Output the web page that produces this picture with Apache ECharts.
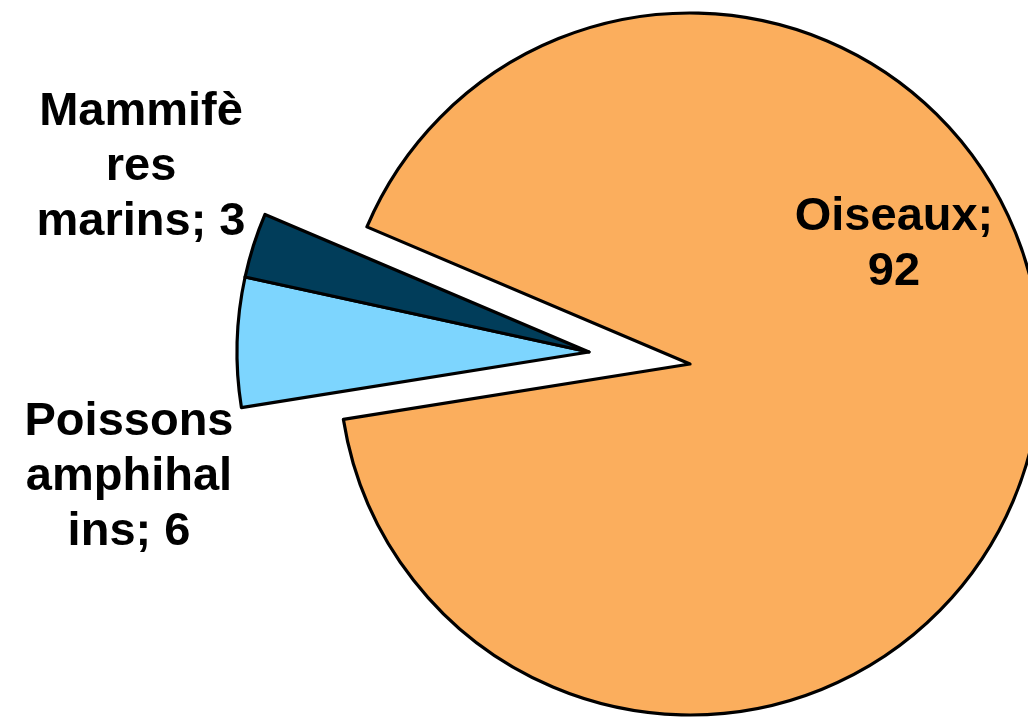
<!DOCTYPE html>
<html>
<head>
<meta charset="utf-8">
<script src="https://cdn.jsdelivr.net/npm/echarts@6/dist/echarts.min.js"></script>
<style>
html,body{margin:0;padding:0;background:#fff;}
#chart{width:1028px;height:719px;}
</style>
</head>
<body>
<div id="chart"></div>
<script>
// ---- data ----
const categories = ['Oiseaux', 'Poissons amphihalins', 'Mammifères marins'];
const values = [92, 6, 3];
// label text as wrapped in the reference
const labelTexts = ['Oiseaux;\n92', 'Poissons\namphihal\nins; 6', 'Mammifè\nres\nmarins; 3'];
const colors = ['#FBAE5D', '#7DD5FE', '#013D5A'];

const total = values.reduce((a, b) => a + b, 0);
const startAngle = 157;
const bigSpan = values[0] / total * 360;

const labelPos = [
  { x: 894, y: 245 },
  { x: 129, y: 477 },
  { x: 141, y: 167 }
];

const baseLabel = {
  show: true,
  color: '#000',
  fontFamily: 'Liberation Sans, Arial, sans-serif',
  fontWeight: 'bold',
  fontSize: 47,
  lineHeight: 55,
  align: 'center',
  formatter: p => labelTexts[categories.indexOf(p.name)]
};

function item(i) {
  return {
    name: categories[i],
    value: values[i],
    itemStyle: { color: colors[i], borderColor: '#000', borderWidth: 3.2 }
  };
}

function layoutFor(offset) {
  return p => {
    const i = p.dataIndex + offset;
    return { x: labelPos[i].x, y: labelPos[i].y, align: 'center', verticalAlign: 'middle' };
  };
}

const option = {
  animation: false,
  series: [
    {
      type: 'pie',
      center: [690, 364],
      radius: 351,
      startAngle: startAngle,
      endAngle: startAngle - bigSpan,
      clockwise: true,
      avoidLabelOverlap: false,
      emphasis: { disabled: true },
      label: Object.assign({ position: 'inside' }, baseLabel),
      labelLine: { show: false },
      labelLayout: layoutFor(0),
      data: [item(0)]
    },
    {
      type: 'pie',
      center: [589, 352],
      radius: 352,
      startAngle: startAngle + (360 - bigSpan),
      endAngle: startAngle,
      clockwise: true,
      avoidLabelOverlap: false,
      emphasis: { disabled: true },
      label: Object.assign({ position: 'outside' }, baseLabel),
      labelLine: { show: false },
      labelLayout: layoutFor(1),
      data: [item(1), item(2)]
    }
  ]
};

const chart = echarts.init(document.getElementById('chart'), null, { renderer: 'canvas' });
chart.setOption(option);
</script>
</body>
</html>
